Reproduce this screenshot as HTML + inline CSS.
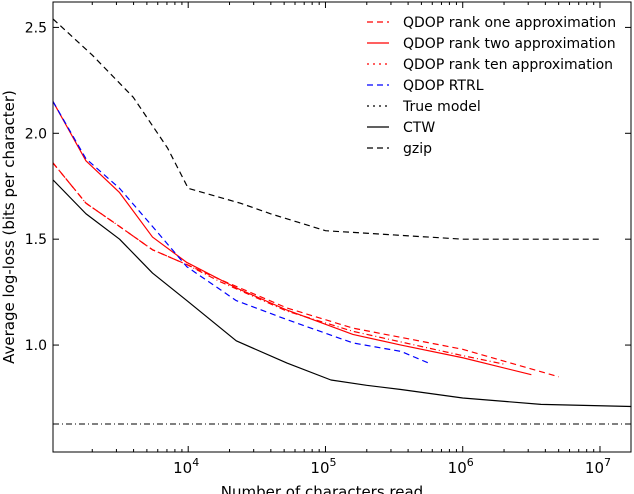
<!DOCTYPE html>
<html><head><meta charset="utf-8">
<style>body{margin:0;background:#fff}svg{display:block;font-family:"DejaVu Sans","Liberation Sans",sans-serif}</style>
</head><body>
<svg id="chart" width="634" height="494" xmlns="http://www.w3.org/2000/svg">
<g id="plot"></g>
</svg>
<script>
const xLogs = {
 gzip:[3.015,3.3,3.6,3.85,4,4.38,4.6,4.8,5,5.5,6,7],
 ctw:[3.015,3.255,3.5,3.74,3.99,4.35,4.72,5.04,5.3,5.55,6,6.57,7.23],
 rank1:[3.015,3.255,3.5,3.74,3.99,4.23,4.72,5.2,6,6.7],
 rank2:[3.015,3.255,3.5,3.74,3.99,4.35,4.72,5.2,5.55,6,6.5],
 rank10:[3.015,3.255,3.5,3.74,3.99,4.23,4.72,5.2,6,6.3],
 rtrl:[3.015,3.255,3.5,3.74,3.99,4.35,4.72,5.2,5.55,5.77]
};
const gzipVals=[2.54,2.37,2.17,1.93,1.74,1.67,1.62,1.58,1.54,1.52,1.50,1.50];
const ctwVals=[1.78,1.62,1.50,1.34,1.21,1.02,0.915,0.835,0.81,0.79,0.75,0.72,0.71];
const rank1Vals=[1.86,1.67,1.56,1.45,1.38,1.31,1.175,1.08,0.98,0.85];
const rank2Vals=[2.15,1.87,1.72,1.51,1.39,1.27,1.165,1.05,1.0,0.94,0.86];
const rank10Vals=[1.86,1.67,1.56,1.45,1.38,1.30,1.16,1.065,0.95,0.91];
const rtrlVals=[2.15,1.88,1.74,1.56,1.37,1.21,1.12,1.01,0.97,0.91];
const trueModel=[0.627];
const yTicks=[1.0,1.5,2.0,2.5];
const xTicks=[4,5,6,7];
const legendLabels=["QDOP rank one approximation","QDOP rank two approximation","QDOP rank ten approximation","QDOP RTRL","True model","CTW","gzip"];

const L=53,R=631,T=2,B=452;
const xmin=3.015,xmax=7.226,ymin=0.495,ymax=2.62;
const X=v=>L+(v-xmin)/(xmax-xmin)*(R-L);
const Y=v=>B-(v-ymin)/(ymax-ymin)*(B-T);
const NS="http://www.w3.org/2000/svg";
const g=document.getElementById('plot');
function mk(t,a,p){const e=document.createElementNS(NS,t);for(const k in a)e.setAttribute(k,a[k]);(p||g).appendChild(e);return e;}

const series=[
 {n:'series-rank-one',x:xLogs.rank1,y:rank1Vals,c:'#f00',d:'6,4'},
 {n:'series-rank-two',x:xLogs.rank2,y:rank2Vals,c:'#f00',d:''},
 {n:'series-rank-ten',x:xLogs.rank10,y:rank10Vals,c:'#f00',d:'6,3,1,3'},
 {n:'series-rtrl',x:xLogs.rtrl,y:rtrlVals,c:'#00f',d:'6,4'},
 {n:'series-ctw',x:xLogs.ctw,y:ctwVals,c:'#000',d:''},
 {n:'series-gzip',x:xLogs.gzip,y:gzipVals,c:'#000',d:'6,4'}
];
const tm=mk('line',{x1:L,x2:R,y1:Y(trueModel[0]),y2:Y(trueModel[0]),stroke:'#000','stroke-width':1,'stroke-dasharray':'6,3,1,3'});


series.forEach(s=>{
 const p=mk('polyline',{points:s.x.map((v,i)=>X(v)+','+Y(s.y[i])).join(' '),fill:'none',stroke:s.c,'stroke-width':1.2,'stroke-dasharray':s.d,'stroke-linejoin':'round'});
 
 
});
const fr=mk('rect',{x:L,y:T,width:R-L,height:B-T,fill:'none',stroke:'#000','stroke-width':1});


yTicks.forEach(v=>{
 mk('line',{x1:L,x2:L+6,y1:Y(v),y2:Y(v),stroke:'#000'});
 mk('line',{x1:R,x2:R-6,y1:Y(v),y2:Y(v),stroke:'#000'});
 const t=mk('text',{x:L-6,y:Y(v)+5,'text-anchor':'end','font-size':14});
 t.textContent=v.toFixed(1);
 
 
});
for(let d=3;d<=7;d++){for(let m=1;m<10;m++){const lv=d+Math.log10(m);if(lv<xmin||lv>xmax)continue;const len=m==1?6:3;
 mk('line',{x1:X(lv),x2:X(lv),y1:B,y2:B-len,stroke:'#000'});mk('line',{x1:X(lv),x2:X(lv),y1:T,y2:T+len,stroke:'#000'});}}
xTicks.forEach(v=>{
 const t=mk('text',{x:X(v)-2,y:B+21,'text-anchor':'middle','font-size':15});
 t.innerHTML='10<tspan dy="-7" font-size="11">'+v+'</tspan>';
 
 
});
const xl=mk('text',{x:(L+R)/2-20,y:497,'text-anchor':'middle','font-size':15});xl.textContent='Number of characters read';


const yl=mk('text',{x:0,y:0,'text-anchor':'middle','font-size':15,transform:'translate(14,227) rotate(-90)'});yl.textContent='Average log-loss (bits per character)';


const lg=[['#f00','6,4'],['#f00',''],['#f00','2,4'],['#00f','6,4'],['#000','2,4'],['#000',''],['#000','6,4']];
legendLabels.forEach((lab,i)=>{const y=22+i*21;
 mk('line',{x1:367,x2:389,y1:y,y2:y,stroke:lg[i][0],'stroke-width':1.2,'stroke-dasharray':lg[i][1]});
 const t=mk('text',{x:403,y:y+5,'font-size':14});t.textContent=lab;
 
 
});
</script>
</body></html>
